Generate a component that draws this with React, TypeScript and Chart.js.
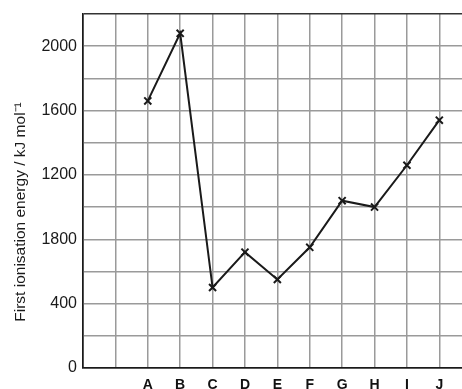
import React, { useEffect, useRef } from "react";
import { Chart, registerables } from "chart.js";

Chart.register(...registerables);

const categories = ["", "", "A", "B", "C", "D", "E", "F", "G", "H", "I", "J"];
const elements = ["A", "B", "C", "D", "E", "F", "G", "H", "I", "J"];
const energies = [1660, 2080, 500, 720, 550, 750, 1040, 1000, 1260, 1540];
const yTickLabels: Record<number, string> = {
  0: "0",
  400: "400",
  800: "1800",
  1200: "1200",
  1600: "1600",
  2000: "2000",
};
const yTitle = "First ionisation energy / kJ mol\u207B\u00B9";

const FONT = "'Liberation Sans', Arial, sans-serif";

const titlePlugin = {
  id: "yTitleText",
  afterDraw(chart: any) {
    const { ctx } = chart;
    ctx.save();
    ctx.translate(21, 212);
    ctx.rotate(-Math.PI / 2);
    ctx.fillStyle = "#1a1a1a";
    ctx.font = `15.5px ${FONT}`;
    ctx.textAlign = "center";
    ctx.textBaseline = "middle";
    ctx.fillText(yTitle, 0, 0);
    ctx.restore();
  },
};

export default function App() {
  const ref = useRef<HTMLCanvasElement>(null);
  useEffect(() => {
    if (!ref.current) return;
    const points = elements.map((e, i) => ({ x: categories.indexOf(e), y: energies[i] }));
    const chart = new Chart(ref.current, {
      type: "line",
      data: {
        datasets: [
          {
            data: points,
            borderColor: "#1a1a1a",
            borderWidth: 2,
            pointStyle: "crossRot",
            pointRadius: 5,
            pointBorderColor: "#1a1a1a",
            pointBorderWidth: 2,
            tension: 0,
          },
        ],
      },
      plugins: [titlePlugin],
      options: {
        animation: false,
        responsive: false,
        maintainAspectRatio: false,
        layout: { autoPadding: false, padding: { top: 14, right: 0, left: 0, bottom: 0 } },
        plugins: { legend: { display: false }, tooltip: { enabled: false } },
        scales: {
          x: {
            type: "linear",
            min: 0,
            max: 11.7,
            afterFit: (s: any) => {
              s.height = 21;
              s.paddingLeft = 0;
              s.paddingRight = 0;
            },
            afterBuildTicks: (s: any) => {
              s.ticks = categories.map((_, i) => ({ value: i }));
            },
            ticks: {
              autoSkip: false,
              maxRotation: 0,
              padding: 9,
              color: "#111111",
              font: { family: FONT, size: 14, weight: "bold" },
              callback: (v: any) => categories[v] ?? "",
            },
            grid: {
              color: (c: any) => (c.tick && c.tick.value === 0 ? "#1a1a1a" : "#9a9a9a"),
              lineWidth: 1.5,
              drawTicks: false,
            },
            border: { color: "#1a1a1a", width: 1.5 },
          },
          y: {
            min: 0,
            max: 2200,
            afterFit: (s: any) => {
              s.width = 83;
              s.paddingTop = 0;
              s.paddingBottom = 0;
            },
            ticks: {
              stepSize: 200,
              padding: 6,
              color: "#1a1a1a",
              font: { family: FONT, size: 16 },
              callback: (v: any) => yTickLabels[v] ?? "",
            },
            grid: {
              color: (c: any) =>
                c.tick && (c.tick.value === 2200 || c.tick.value === 0) ? "#333333" : "#9a9a9a",
              lineWidth: 1.5,
              drawTicks: false,
            },
            border: { color: "#1a1a1a", width: 1.5 },
          },
        },
      },
    });
    return () => chart.destroy();
  }, []);
  return (
    <div style={{ position: "fixed", left: 0, top: 0, width: 462, height: 389, background: "#fff" }}>
      <canvas ref={ref} width={462} height={389} style={{ width: 462, height: 389 }} />
    </div>
  );
}
